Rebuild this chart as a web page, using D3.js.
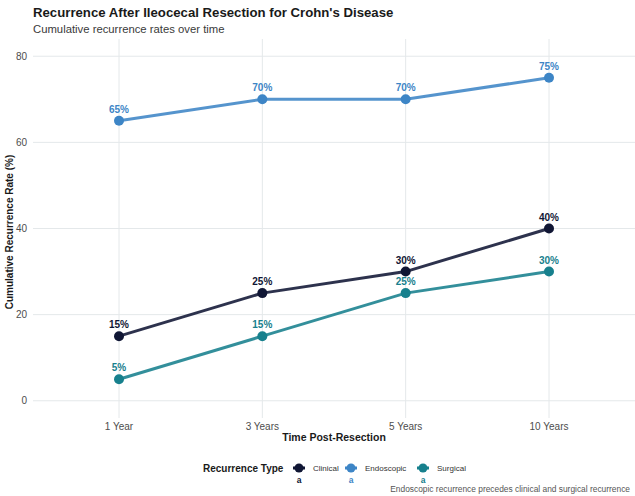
<!DOCTYPE html>
<html>
<head>
<meta charset="utf-8">
<script src="https://cdn.jsdelivr.net/npm/d3@7"></script>
<style>
  body { margin: 0; background: #fff; }
  svg { font-family: "Liberation Sans", Arial, sans-serif; display: block; }
</style>
</head>
<body>
<div class="container"></div>
<script>
// data
const timePoints = ["1 Year", "3 Years", "5 Years", "10 Years"];
const seriesNames = ["Clinical", "Endoscopic", "Surgical"];
const clinical = [15, 25, 30, 40];
const endoscopic = [65, 70, 70, 75];
const surgical = [5, 15, 25, 30];
const yTicks = [0, 20, 40, 60, 80];
const seriesColors = ["#101634", "#3d85c6", "#17808d"];

const W = 635, H = 496;
const panel = { left: 33, right: 635, top: 39, bottom: 418 };

const svg = d3.select(".container").append("svg")
  .attr("width", W).attr("height", H);

// scales
const x = d3.scalePoint()
  .domain(timePoints)
  .range([panel.left, panel.right])
  .padding(0.6);

const y = d3.scaleLinear()
  .domain([-4, 84])
  .range([panel.bottom, panel.top]);

// grid
svg.append("g")
  .selectAll("line")
  .data(yTicks)
  .join("line")
  .attr("x1", panel.left).attr("x2", panel.right)
  .attr("y1", d => y(d)).attr("y2", d => y(d))
  .attr("stroke", "#e4e8ea").attr("stroke-width", 1);

svg.append("g")
  .selectAll("line")
  .data(timePoints)
  .join("line")
  .attr("x1", d => x(d)).attr("x2", d => x(d))
  .attr("y1", panel.top).attr("y2", panel.bottom)
  .attr("stroke", "#e4e8ea").attr("stroke-width", 1);

// axis labels
svg.append("g")
  .selectAll("text")
  .data(yTicks)
  .join("text")
  .attr("x", panel.left - 6)
  .attr("y", d => y(d))
  .attr("dy", "0.35em")
  .attr("text-anchor", "end")
  .attr("font-size", 10)
  .attr("fill", "#4d4d4d")
  .text(d => d);

svg.append("g")
  .selectAll("text")
  .data(timePoints)
  .join("text")
  .attr("x", d => x(d))
  .attr("y", panel.bottom + 12)
  .attr("text-anchor", "middle")
  .attr("font-size", 10)
  .attr("fill", "#4d4d4d")
  .text(d => d);

svg.append("text")
  .attr("x", (panel.left + panel.right) / 2)
  .attr("y", 441)
  .attr("text-anchor", "middle")
  .attr("font-size", 10.5)
  .attr("font-weight", "bold")
  .attr("fill", "#1a1a1a")
  .text("Time Post-Resection");

svg.append("text")
  .attr("transform", `translate(9,232) rotate(-90)`)
  .attr("text-anchor", "middle")
  .attr("dy", "0.35em")
  .attr("font-size", 10)
  .attr("font-weight", "bold")
  .attr("fill", "#1a1a1a")
  .text("Cumulative Recurrence Rate (%)");

// title
svg.append("text")
  .attr("x", 33).attr("y", 17)
  .attr("font-size", 13.2)
  .attr("font-weight", "bold")
  .attr("fill", "#1a1a1a")
  .text("Recurrence After Ileocecal Resection for Crohn's Disease");

svg.append("text")
  .attr("x", 33).attr("y", 33)
  .attr("font-size", 11.3)
  .attr("fill", "#3a3a3a")
  .text("Cumulative recurrence rates over time");

// series
const series = [clinical, endoscopic, surgical].map((vals, i) => ({
  name: seriesNames[i],
  color: seriesColors[i],
  values: vals.map((v, j) => ({ t: timePoints[j], v }))
}));

const line = d3.line()
  .x(d => x(d.t))
  .y(d => y(d.v));

const g = svg.append("g");

series.forEach(s => {
  g.append("path")
    .datum(s.values)
    .attr("d", line)
    .attr("fill", "none")
    .attr("stroke", s.color)
    .attr("stroke-opacity", 0.88)
    .attr("stroke-width", 3);
});

series.forEach(s => {
  g.selectAll(null)
    .data(s.values)
    .join("circle")
    .attr("cx", d => x(d.t))
    .attr("cy", d => y(d.v))
    .attr("r", 5)
    .attr("fill", s.color);

  g.selectAll(null)
    .data(s.values)
    .join("text")
    .attr("x", d => x(d.t))
    .attr("y", d => y(d.v) - 8)
    .attr("text-anchor", "middle")
    .attr("font-size", 10)
    .attr("font-weight", "bold")
    .attr("fill", s.color)
    .text(d => d.v + "%");
});

// legend
const leg = svg.append("g");
leg.append("text")
  .attr("x", 203).attr("y", 472)
  .attr("font-size", 10)
  .attr("font-weight", "bold")
  .attr("fill", "#1a1a1a")
  .text("Recurrence Type");

const legX = [299, 351, 423];
series.forEach((s, i) => {
  const k = leg.append("g").attr("transform", `translate(${legX[i]},468)`);
  k.append("line")
    .attr("x1", -6).attr("x2", 6)
    .attr("stroke", s.color).attr("stroke-width", 3);
  k.append("circle").attr("r", 4.5).attr("fill", s.color);
  k.append("text")
    .attr("y", 15)
    .attr("text-anchor", "middle")
    .attr("font-size", 8.5)
    .attr("font-weight", "bold")
    .attr("fill", s.color)
    .text("a");
  k.append("text")
    .attr("x", 14).attr("y", 3)
    .attr("font-size", 8)
    .attr("fill", "#333")
    .text(s.name);
});

// caption
svg.append("text")
  .attr("x", 630).attr("y", 492)
  .attr("text-anchor", "end")
  .attr("font-size", 8.4)
  .attr("fill", "#555")
  .text("Endoscopic recurrence precedes clinical and surgical recurrence");
</script>
</body>
</html>
